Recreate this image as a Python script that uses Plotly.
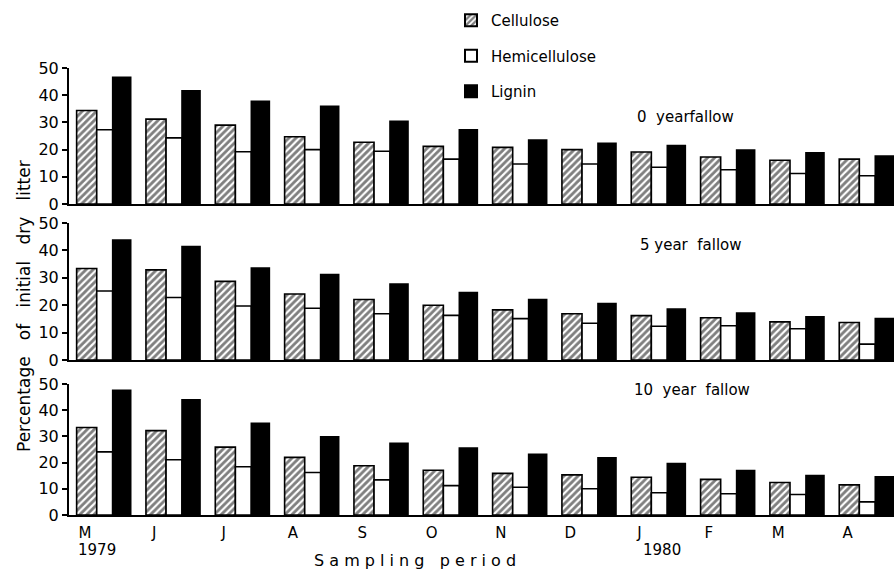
import plotly.graph_objects as go

months = ["M", "J", "J", "A", "S", "O", "N", "D", "J", "F", "M", "A"]
panel_names = ["0  yearfallow", "5 year  fallow", "10  year  fallow"]
series_names = ["Cellulose", "Hemicellulose", "Lignin"]

cellulose_0 = [34.4, 31.2, 29.0, 24.7, 22.7, 21.2, 20.8, 20.0, 19.1, 17.3, 16.1, 16.5]
hemi_0 = [27.3, 24.3, 19.2, 20.0, 19.4, 16.5, 14.7, 14.7, 13.5, 12.6, 11.2, 10.4]
lignin_0 = [46.6, 41.6, 37.8, 35.9, 30.4, 27.3, 23.5, 22.3, 21.5, 19.8, 18.8, 17.6]

cellulose_5 = [33.4, 32.9, 28.7, 24.1, 22.1, 20.0, 18.3, 16.9, 16.2, 15.4, 13.9, 13.7]
hemi_5 = [25.2, 22.8, 19.7, 18.9, 16.9, 16.3, 15.1, 13.4, 12.3, 12.5, 11.4, 5.8]
lignin_5 = [43.8, 41.4, 33.6, 31.2, 27.7, 24.6, 22.1, 20.6, 18.6, 17.1, 15.8, 15.1]

cellulose_10 = [33.4, 32.2, 25.9, 22.0, 18.8, 17.1, 15.9, 15.3, 14.4, 13.6, 12.4, 11.5]
hemi_10 = [24.1, 21.1, 18.4, 16.2, 13.4, 11.2, 10.6, 10.0, 8.5, 8.1, 7.8, 5.0]
lignin_10 = [47.6, 44.0, 35.0, 29.8, 27.4, 25.6, 23.2, 21.8, 19.6, 17.0, 15.1, 14.6]

y_ticks = [0, 10, 20, 30, 40, 50]

W, H = 894, 570
FONT = "DejaVu Sans"
panels = [
    (cellulose_0, hemi_0, lignin_0),
    (cellulose_5, hemi_5, lignin_5),
    (cellulose_10, hemi_10, lignin_10),
]
# pixel rows: (y of 0, y of 50)
rows_px = [(204, 68), (360, 223), (515, 384)]
x0_px = 69

xs = list(range(len(months)))
styles = [
    dict(offset=-0.39, width=0.29, fill="white", pattern=dict(shape="/", fgcolor="black", bgcolor="white", size=5, solidity=0.58)),
    dict(offset=-0.10, width=0.23, fill="white", pattern=None),
    dict(offset=0.13, width=0.26, fill="black", pattern=None),
]

fig = go.Figure()
layout = {}
for p, (vals, (pz, p50)) in enumerate(zip(panels, rows_px)):
    sfx = "" if p == 0 else str(p + 1)
    for s, (v, st) in enumerate(zip(vals, styles)):
        marker = dict(color=st["fill"], line=dict(color="black", width=1.6))
        if st["pattern"]:
            marker["pattern"] = st["pattern"]
        fig.add_trace(go.Bar(
            x=xs, y=v, name=series_names[s], offset=st["offset"], width=st["width"],
            marker=marker, xaxis="x" + sfx, yaxis="y" + sfx,
            showlegend=(p == 0), legendgroup=series_names[s],
        ))
    layout["xaxis" + sfx] = dict(
        domain=[x0_px / W, 1], range=[-0.5, 11.4], anchor="y" + sfx, automargin=False,
        showline=True, linewidth=2.2, linecolor="black", showgrid=False, zeroline=False,
        tickvals=[i - 0.27 for i in xs] if p == 2 else [],
        ticktext=months if p == 2 else [],
        ticks="", ticklabelstandoff=3, tickfont=dict(family=FONT, size=15, color="black"),
        showticklabels=(p == 2),
    )
    layout["yaxis" + sfx] = dict(
        domain=[1 - pz / H, 1 - p50 / H], range=[0, 50], anchor="x" + sfx, automargin=False,
        showline=True, linewidth=2, linecolor="black", showgrid=False, zeroline=False,
        tickvals=y_ticks, ticks="outside", ticklen=5, tickwidth=1.5, tickcolor="black",
        tickfont=dict(family=FONT, size=16, color="black"),
    )

label_pos = [(685, 117), (691, 245), (692, 390)]
annotations = []
for name, (px, py) in zip(panel_names, label_pos):
    annotations.append(dict(text=name, x=px / W, y=1 - py / H, xref="paper", yref="paper",
                            xanchor="center", yanchor="middle",
                            showarrow=False, font=dict(family=FONT, size=15, color="black")))
annotations += [
    dict(text="1979", x=97 / W, y=1 - 550 / H, xref="paper", yref="paper", showarrow=False,
         xanchor="center", yanchor="middle", font=dict(family=FONT, size=15, color="black")),
    dict(text="1980", x=662 / W, y=1 - 550 / H, xref="paper", yref="paper", showarrow=False,
         xanchor="center", yanchor="middle", font=dict(family=FONT, size=15, color="black")),
    dict(text="S a m p l i n g   p e r i o d", x=415 / W, y=1 - 560 / H, xref="paper", yref="paper",
         xanchor="center", yanchor="middle",
         showarrow=False, font=dict(family=FONT, size=16, color="black")),
    dict(text="Percentage   of   initial   dry   litter", x=24 / W, y=1 - 306 / H, xref="paper", yref="paper",
         xanchor="center", yanchor="middle",
         showarrow=False, textangle=-90, font=dict(family=FONT, size=17, color="black")),
]

fig.update_layout(
    width=W, height=H, margin=dict(l=0, r=0, t=0, b=0, autoexpand=False),
    plot_bgcolor="white", paper_bgcolor="white", barmode="overlay",
    showlegend=True,
    legend=dict(x=451 / W, y=1 - 4 / H, xref="container", yref="container",
                xanchor="left", yanchor="top", tracegroupgap=13,
                font=dict(family=FONT, size=15, color="black"), bgcolor="rgba(0,0,0,0)",
                itemsizing="constant"),
    annotations=annotations,
    **layout,
)
fig.write_html("out.html")
